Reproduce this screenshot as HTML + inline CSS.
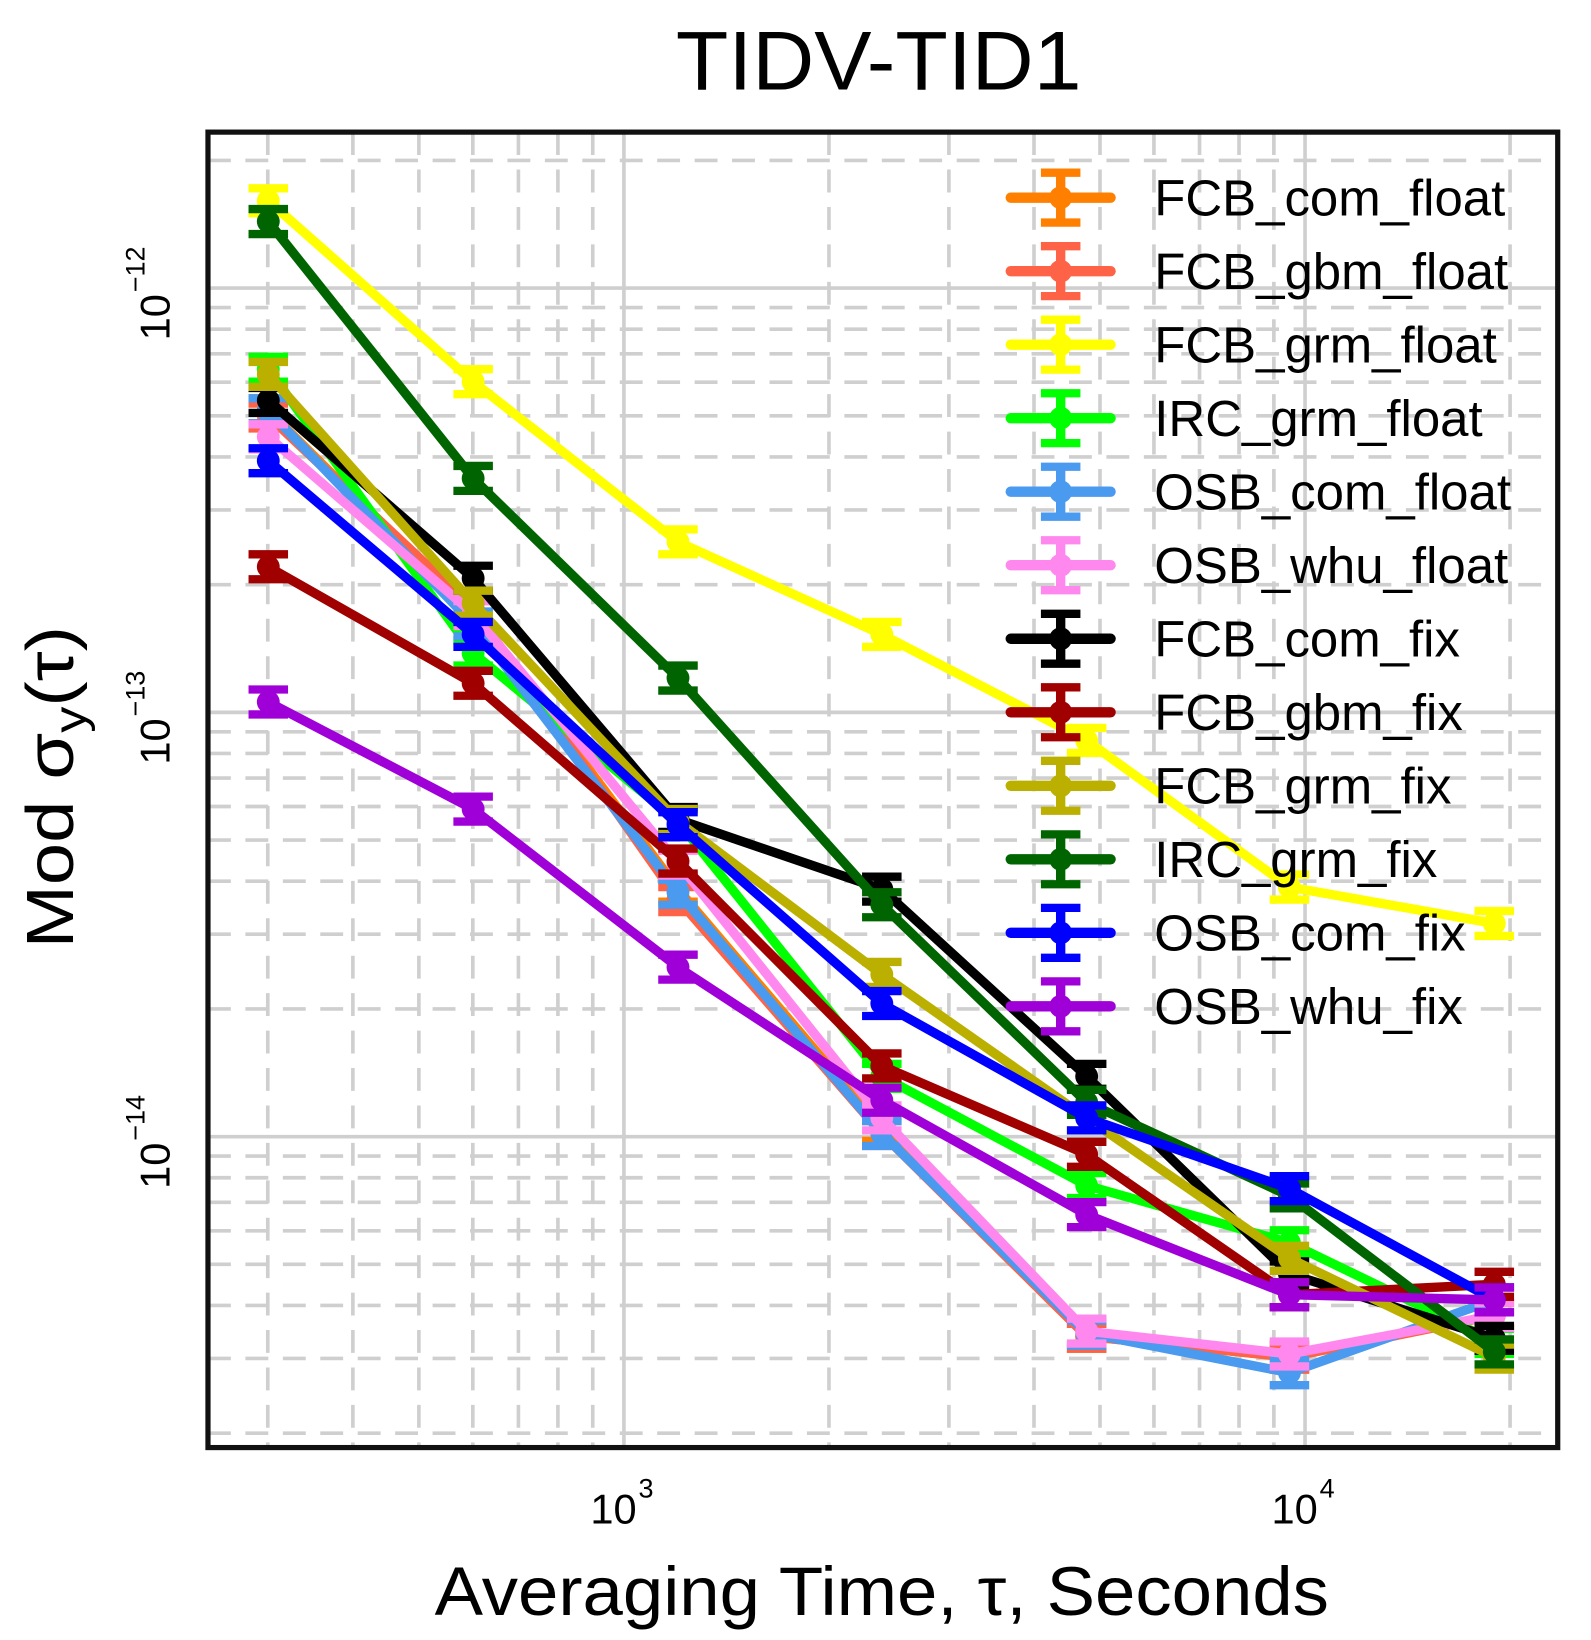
<!DOCTYPE html>
<html><head><meta charset="utf-8"><style>
html,body{margin:0;padding:0;background:#fff;}
svg{display:block;}
text{font-family:"Liberation Sans",sans-serif;}
</style></head><body>
<svg id="s" width="1591" height="1640" viewBox="0 0 1530 1577" xmlns="http://www.w3.org/2000/svg">
<text x="845" y="86" font-size="80" text-anchor="middle" textLength="390" lengthAdjust="spacingAndGlyphs">TIDV-TID1</text>
<g id="grid"></g>
<g id="data"></g>
<g id="leg"></g>
<rect x="200" y="127" width="1298" height="1265" fill="none" stroke="#111" stroke-width="5"/>
<text x="590" y="1465" font-size="40" text-anchor="middle">10</text><text x="614" y="1440" font-size="26">3</text>
<text x="1245" y="1465" font-size="40" text-anchor="middle">10</text><text x="1269" y="1440" font-size="26">4</text>
<g transform="translate(163,305) rotate(-90)"><text x="0" y="0" font-size="40" text-anchor="middle">10</text><text x="24" y="-24" font-size="26">−12</text></g>
<g transform="translate(163,713) rotate(-90)"><text x="0" y="0" font-size="40" text-anchor="middle">10</text><text x="24" y="-24" font-size="26">−13</text></g>
<g transform="translate(163,1121) rotate(-90)"><text x="0" y="0" font-size="40" text-anchor="middle">10</text><text x="24" y="-24" font-size="26">−14</text></g>
<g transform="translate(70,757) rotate(-90)"><text x="0" y="0" font-size="64" text-anchor="middle" textLength="310" lengthAdjust="spacingAndGlyphs">Mod σ<tspan font-size="44" dy="12">y</tspan><tspan dy="-12">(τ)</tspan></text></g>
<text x="848" y="1553" font-size="66" text-anchor="middle" textLength="860" lengthAdjust="spacingAndGlyphs">Averaging Time, τ, Seconds</text>
</svg>
<script>
var NS="http://www.w3.org/2000/svg";
function el(p,t,a){var e=document.createElementNS(NS,t);for(var k in a)e.setAttribute(k,a[k]);p.appendChild(e);return e;}
var L=200,R=1498,T=127,B=1392;
var g=document.getElementById('grid');
for(var d=2;d<=4;d++)for(var m=1;m<10;m++){var x=600+655*(d-3+Math.log10(m));if(x<=L||x>=R)continue;
 el(g,'line',{x1:x,y1:T,x2:x,y2:B,stroke:'#cfcfcf','stroke-width':3.5,'stroke-dasharray':m==1?'':'22,14'});}
for(var d=-15;d<=-11;d++)for(var m=1;m<10;m++){var y=277-408*(d+12+Math.log10(m));if(y<=T||y>=B)continue;
 el(g,'line',{x1:L,y1:y,x2:R,y2:y,stroke:'#cfcfcf','stroke-width':3.5,'stroke-dasharray':m==1?'':'22,14'});}
var X=[258,455,652,848,1045,1240,1437];
var S=[
["FCB_com_float","#ff8000",[395,590,855,1085,1285,1305,1265]],
["FCB_gbm_float","#ff6347",[400,585,865,1090,1285,1305,1265]],
["FCB_grm_float","#ffff00",[193,367,521,610,712,853,888]],
["IRC_grm_float","#00ff00",[355,628,790,1035,1140,1195,1290]],
["OSB_com_float","#4a9af0",[395,600,858,1090,1282,1320,1250]],
["OSB_whu_float","#ff88ee",[420,590,830,1075,1280,1302,1265]],
["FCB_com_fix","#000000",[385,556,788,855,1035,1225,1287]],
["FCB_gbm_fix","#a00000",[545,657,828,1025,1110,1245,1235]],
["FCB_grm_fix","#bbb000",[360,580,790,937,1075,1210,1305]],
["IRC_grm_fix","#006400",[213,460,652,870,1060,1150,1300]],
["OSB_com_fix","#0000ff",[443,610,793,965,1075,1143,1250]],
["OSB_whu_fix","#a000d8",[675,778,930,1058,1168,1245,1250]]];
var D=document.getElementById('data'),G=document.getElementById('leg');
function eb(p,x,y,h,c){el(p,'line',{x1:x,y1:y-h,x2:x,y2:y+h,stroke:c,'stroke-width':9});
 el(p,'line',{x1:x-19,y1:y-h,x2:x+19,y2:y-h,stroke:c,'stroke-width':8});
 el(p,'line',{x1:x-19,y1:y+h,x2:x+19,y2:y+h,stroke:c,'stroke-width':8});
 el(p,'circle',{cx:x,cy:y,r:11,fill:c});}
S.forEach(function(s,i){
 var pts=X.map(function(x,j){return x+','+s[2][j];}).join(' ');
 el(D,'polyline',{points:pts,fill:'none',stroke:s[1],'stroke-width':9,'stroke-linejoin':'round'});
 X.forEach(function(x,j){eb(D,x,s[2][j],12,s[1]);});
 var ly=190+70.7*i;
 el(G,'line',{x1:972,y1:ly,x2:1068,y2:ly,stroke:s[1],'stroke-width':10,'stroke-linecap':'round'});
 eb(G,1020,ly,24,s[1]);
 var t=el(G,'text',{x:1110,y:ly+17,'font-size':49});t.textContent=s[0];
});
</script>
</body></html>
